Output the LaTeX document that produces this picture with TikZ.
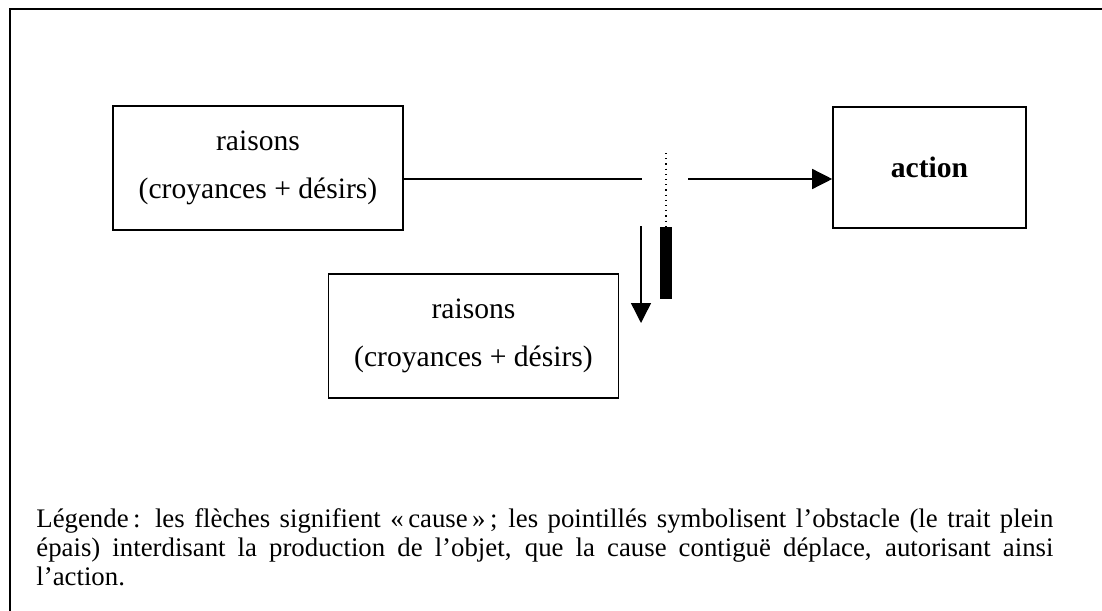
\documentclass[tikz,border=0pt]{standalone}
\usepackage{fontspec}
\setmainfont{Liberation Serif}
\usetikzlibrary{arrows.meta,calc,positioning}

\begin{document}
\begin{tikzpicture}
[
                     x =  0.5pt,
                     y = -0.5pt,
                    >= {Triangle[length=10pt, width=10pt]},
              rb/.style = { draw=black, line width=0.8pt, minimum width=145pt, minimum height=62pt, inner sep=0pt, align=center, font={\fontsize{14.8}{24}\selectfont} },
              ab/.style = { rb, minimum width=96.5pt, minimum height=60.5pt, font={\fontsize{14.8}{24}\selectfont\bfseries} },
             bar/.style = { draw=none, fill=black, minimum width=6pt, minimum height=36pt, inner sep=0pt, outer sep=0pt },
              ln/.style = { line width=0.7pt },
         legende/.style = { anchor=north west, inner sep=0pt, text width=508.5pt, align=justify, font={\fontsize{13.4}{14.5}\selectfont} }
]

	\clip (0,0) rectangle (1102,610);
	\draw[line width=1.4pt] (10,9) rectangle (1140,650);

	\node  (r1) at (258  ,168  ) [rb] {raisons\\(croyances + désirs)};
	\node  (r2) at (473.5,336  ) [rb] {raisons\\(croyances + désirs)};
	\node (act) at (929.5,167.5) [ab] {action};
	\node (obs) at (666  ,263  ) [bar] {};

	\coordinate  (cut) at (642,179);
	\coordinate (free) at (688,179);
	\coordinate (dtop) at (666,153);
	\coordinate (dbeg) at (641,226);
	\coordinate (dend) at (641,323);

	\draw[ln]         (r1.east |- cut) -- (cut);
	\draw[ln,->]      (free) -- (act.west |- free);
	\draw[ln,->]      (dbeg) -- (dend);
	\draw[line width=0.6pt, dotted] (dtop) -- (obs.north);

	\node (leg) at (36,508) [legende] {Légende\,: les flèches signifient «\,cause\,»\,; les pointillés symbolisent l’obstacle (le trait plein\linebreak épais) interdisant la production de l’objet, que la cause contiguë déplace, autorisant ainsi\linebreak l’action.};

\end{tikzpicture}
\end{document}
